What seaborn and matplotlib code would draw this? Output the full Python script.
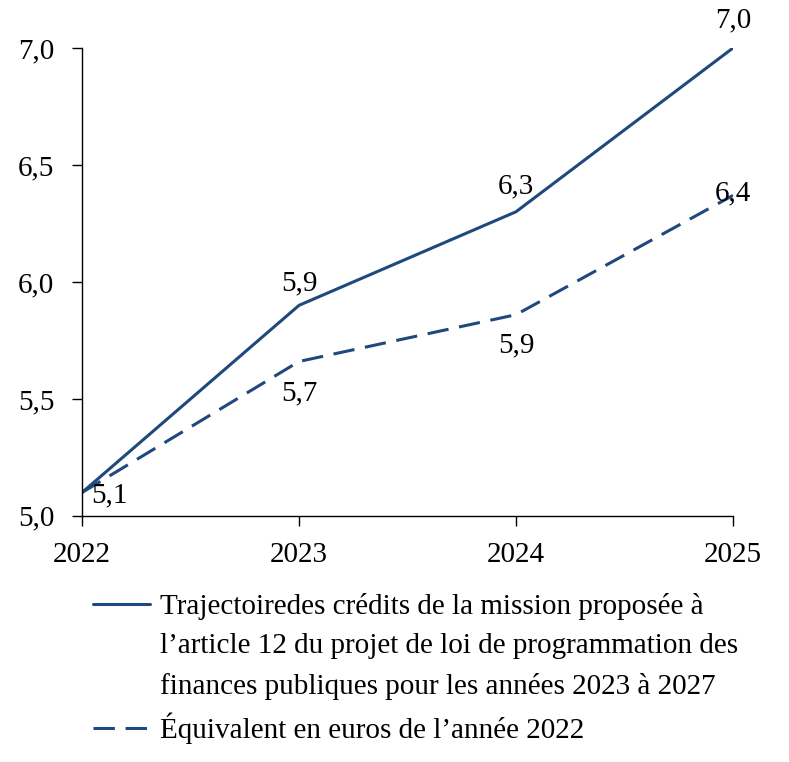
import pandas as pd
import seaborn as sns
import matplotlib.pyplot as plt
from matplotlib.lines import Line2D

# Données (milliards d'euros)
annees = [2022, 2023, 2024, 2025]
trajectoire = [5.1, 5.9, 6.3, 7.0]
equivalent_2022 = [5.1, 5.66, 5.86, 6.37]
etiquettes_traj = ["", "5,9", "6,3", "7,0"]
etiquettes_equiv = ["5,1", "5,7", "5,9", "6,4"]
yticks = [5.0, 5.5, 6.0, 6.5, 7.0]
ytick_labels = ["5,0", "5,5", "6,0", "6,5", "7,0"]

lignes_traj = ["Trajectoiredes crédits de la mission proposée à",
               "l’article 12 du projet de loi de programmation des",
               "finances publiques pour les années 2023 à 2027"]
nom_equiv = "Équivalent en euros de l’année 2022"

sns.set_theme(style="white")
plt.rcParams['font.family'] = ['Liberation Serif', 'DejaVu Serif']

bleu = '#1F497D'
taille = 21

fig = plt.figure(figsize=(7.89, 7.62), dpi=100)
ax = fig.add_axes([0.104, 0.323, 0.825, 0.614])

sns.lineplot(x=annees, y=trajectoire, ax=ax, color=bleu, linewidth=2.2)
sns.lineplot(x=annees, y=equivalent_2022, ax=ax, color=bleu, linewidth=2.2)
ax.lines[1].set_dashes([7, 3.5])

# étiquettes de données (décalages en pixels)
offs_traj = [(0, 0), (0, 22), (0, 25), (0, 28)]
offs_equiv = [(27, -3), (0, -32), (0, -31), (0, 2)]
for x, y, t, o in zip(annees, trajectoire, etiquettes_traj, offs_traj):
    if t:
        ax.annotate(t, (x, y), xytext=o, textcoords='offset pixels',
                    ha='center', va='center', fontsize=taille, color='black')
for x, y, t, o in zip(annees, equivalent_2022, etiquettes_equiv, offs_equiv):
    ax.annotate(t, (x, y), xytext=o, textcoords='offset pixels',
                ha='center', va='center', fontsize=taille, color='black')

ax.set_xlim(2022, 2025)
ax.set_ylim(5.0, 7.0)
ax.set_xticks(annees)
ax.set_xticklabels([str(a) for a in annees])
ax.set_yticks(yticks)
ax.set_yticklabels(ytick_labels)
ax.tick_params(axis='both', labelsize=taille, colors='black', length=7, width=1,
               direction='out', left=True, bottom=True)
ax.tick_params(axis='x', pad=12)
ax.tick_params(axis='y', pad=13)
for s in ['top', 'right']:
    ax.spines[s].set_visible(False)
for s in ['left', 'bottom']:
    ax.spines[s].set_color('black')
    ax.spines[s].set_linewidth(1)
ax.set_xlabel('')
ax.set_ylabel('')

# légende : une ligne par rangée pour aligner le trait sur la première ligne
vide = Line2D([], [], color='none')
h = [ax.lines[0], vide, vide, ax.lines[1]]
l = lignes_traj + [nom_equiv]
fig.legend(h, l, loc='upper left', bbox_to_anchor=(0.118, 0.222), frameon=False,
           fontsize=21, labelcolor='black', handlelength=1.95, handletextpad=0.35,
           labelspacing=0.45, borderaxespad=0, borderpad=0)

fig.savefig('out.png', dpi=100)
